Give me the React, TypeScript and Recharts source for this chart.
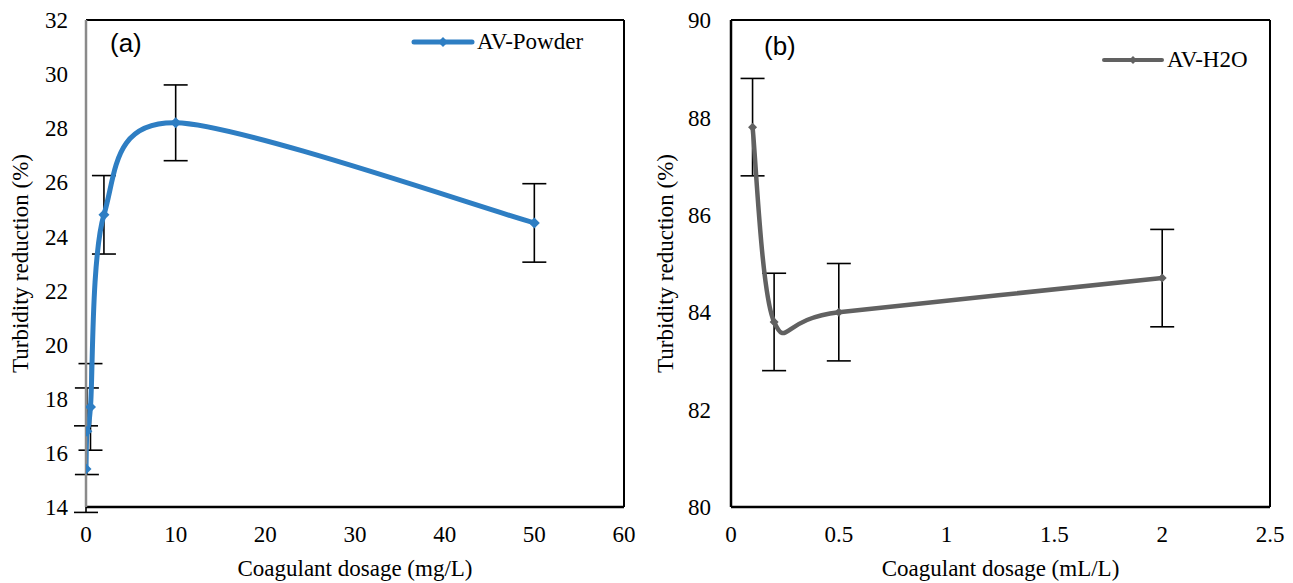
import React from 'react';
import { LineChart, Line, XAxis, YAxis, ErrorBar, ReferenceLine } from 'recharts';

// panel (a): AV-Powder
const doseA = [0, 0.1, 0.5, 2, 10, 50];
const turbA = [15.4, 16.8, 17.7, 24.8, 28.2, 24.5];
const errA = [1.6, 1.6, 1.6, 1.45, 1.4, 1.45];
const xTicksA = [0, 10, 20, 30, 40, 50, 60];
const yTicksA = [14, 16, 18, 20, 22, 24, 26, 28, 30, 32];

// panel (b): AV-H2O
const doseB = [0.1, 0.2, 0.5, 2];
const turbB = [87.8, 83.8, 84.0, 84.7];
const errB = [1, 1, 1, 1];
const xTicksB = [0, 0.5, 1, 1.5, 2, 2.5];
const yTicksB = [80, 82, 84, 86, 88, 90];

const dataA = doseA.map((x, i) => ({ x, y: turbA[i], err: errA[i] }));
const dataB = doseB.map((x, i) => ({ x, y: turbB[i], err: errB[i] }));

const serif = 'Liberation Serif';
const sans = '"Liberation Sans", Arial, sans-serif';
const BLUE = '#2E7EC3';
const GREY = '#616161';
const FS = 23;

// Excel-like smoothed line (Catmull-Rom as cubic bezier)
const excelCurve = (context: any) => {
  let pts: number[][] = [];
  const k = 1 / 6.8;
  return {
    areaStart() {},
    areaEnd() {},
    lineStart() {
      pts = [];
    },
    point(x: number, y: number) {
      pts.push([+x, +y]);
    },
    lineEnd() {
      const n = pts.length;
      if (!n) return;
      context.moveTo(pts[0][0], pts[0][1]);
      for (let i = 0; i < n - 1; i++) {
        const p0 = pts[Math.max(i - 1, 0)];
        const p1 = pts[i];
        const p2 = pts[i + 1];
        const p3 = pts[Math.min(i + 2, n - 1)];
        context.bezierCurveTo(
          p1[0] + (p2[0] - p0[0]) * k,
          p1[1] + (p2[1] - p0[1]) * k,
          p2[0] - (p3[0] - p1[0]) * k,
          p2[1] - (p3[1] - p1[1]) * k,
          p2[0],
          p2[1]
        );
      }
    },
  };
};

const diamond = (color: string, r: number) => (props: any) => {
  const { cx, cy, index } = props;
  if (cx == null || cy == null) return <g key={`d-${index}`} />;
  return (
    <polygon
      key={`d-${index}`}
      points={`${cx},${cy - r} ${cx + r},${cy} ${cx},${cy + r} ${cx - r},${cy}`}
      fill={color}
    />
  );
};

const tickStyle = { fill: '#000', fontSize: FS, fontFamily: serif };

const xTitle = (text: string) => (props: any) => {
  const vb = props.viewBox || {};
  const cx = (vb.x ?? 86) + (vb.width ?? 538) / 2;
  const y = (vb.y ?? 507) + 61;
  return (
    <text x={cx} y={y} textAnchor="middle" dominantBaseline="central" fill="#000" fontFamily={serif} fontSize={FS}>
      {text}
    </text>
  );
};

const yTitle = (text: string) => (props: any) => {
  const vb = props.viewBox || {};
  const x = (vb.x ?? 0) + 20;
  const cy = (vb.y ?? 20) + (vb.height ?? 487) / 2;
  return (
    <text
      x={x}
      y={cy}
      transform={`rotate(-90 ${x} ${cy})`}
      textAnchor="middle"
      dominantBaseline="central"
      fill="#000"
      fontFamily={serif}
      fontSize={FS}
    >
      {text}
    </text>
  );
};

const LegendItem = ({ left, top, color, thick, r, label }: any) => (
  <div style={{ position: 'absolute', left, top, display: 'flex', alignItems: 'center', height: 24 }}>
    <svg width={64} height={24}>
      <line x1={3} y1={12} x2={61} y2={12} stroke={color} strokeWidth={thick} strokeLinecap="round" />
      <polygon points={`32,${12 - r} ${32 + r},12 32,${12 + r} ${32 - r},12`} fill={color} />
    </svg>
    <span style={{ fontFamily: '"Liberation Serif", serif', fontSize: FS, color: '#000', marginLeft: 2, lineHeight: '24px' }}>{label}</span>
  </div>
);

export default function App() {
  return (
    <div style={{ position: 'absolute', left: 0, top: 0, width: 1293, height: 583, background: '#fff' }}>
      <div style={{ position: 'absolute', left: 0, top: 0 }}>
        <LineChart width={645} height={583} data={dataA} margin={{ top: 20, right: 21, bottom: 0, left: 0 }}>
          <XAxis
            dataKey="x"
            type="number"
            domain={[0, 60]}
            ticks={xTicksA}
            allowDataOverflow
            tickLine={false}
            axisLine={{ stroke: '#000', strokeWidth: 2.5 }}
            tick={tickStyle}
            tickMargin={13}
            height={76}
            label={xTitle('Coagulant dosage (mg/L)')}
          />
          <YAxis
            type="number"
            domain={[14, 32]}
            ticks={yTicksA}
            allowDataOverflow
            tickLine={false}
            axisLine={{ stroke: '#8a8a8a', strokeWidth: 2.5 }}
            tick={tickStyle}
            tickMargin={12}
            width={86}
            label={yTitle('Turbidity reduction (%)')}
          />
          <ReferenceLine y={32} stroke="#000" strokeWidth={2} />
          <ReferenceLine x={60} stroke="#000" strokeWidth={2} />
          <Line
            dataKey="y"
            type={excelCurve as any}
            stroke={BLUE}
            strokeWidth={5}
            dot={diamond(BLUE, 5.5)}
            activeDot={false}
            isAnimationActive={false}
          >
            <ErrorBar dataKey="err" direction="y" width={12} stroke="#000" strokeWidth={1.6} />
          </Line>
        </LineChart>
      </div>
      <div style={{ position: 'absolute', left: 645, top: 0 }}>
        <LineChart width={648} height={583} data={dataB} margin={{ top: 20, right: 23, bottom: 0, left: 0 }}>
          <XAxis
            dataKey="x"
            type="number"
            domain={[0, 2.5]}
            ticks={xTicksB}
            allowDataOverflow
            tickLine={false}
            axisLine={{ stroke: '#000', strokeWidth: 2.5 }}
            tick={tickStyle}
            tickMargin={13}
            height={76}
            label={xTitle('Coagulant dosage (mL/L)')}
          />
          <YAxis
            type="number"
            domain={[80, 90]}
            ticks={yTicksB}
            allowDataOverflow
            tickLine={false}
            axisLine={{ stroke: '#000', strokeWidth: 2.5 }}
            tick={tickStyle}
            tickMargin={14}
            width={86}
            label={yTitle('Turbidity reduction (%)')}
          />
          <ReferenceLine y={90} stroke="#000" strokeWidth={2} />
          <ReferenceLine x={2.5} stroke="#000" strokeWidth={2} />
          <Line
            dataKey="y"
            type={excelCurve as any}
            stroke={GREY}
            strokeWidth={4.5}
            dot={diamond(GREY, 4.5)}
            activeDot={false}
            isAnimationActive={false}
          >
            <ErrorBar dataKey="err" direction="y" width={12} stroke="#000" strokeWidth={1.6} />
          </Line>
        </LineChart>
      </div>
      <div style={{ position: 'absolute', left: 110, top: 28, fontFamily: sans, fontSize: 26, color: '#000' }}>(a)</div>
      <div style={{ position: 'absolute', left: 764, top: 31, fontFamily: sans, fontSize: 26, color: '#000' }}>(b)</div>
      <LegendItem left={411} top={30} color={BLUE} thick={5} r={5} label="AV-Powder" />
      <LegendItem left={1101} top={48} color={GREY} thick={4} r={4} label="AV-H2O" />
    </div>
  );
}
